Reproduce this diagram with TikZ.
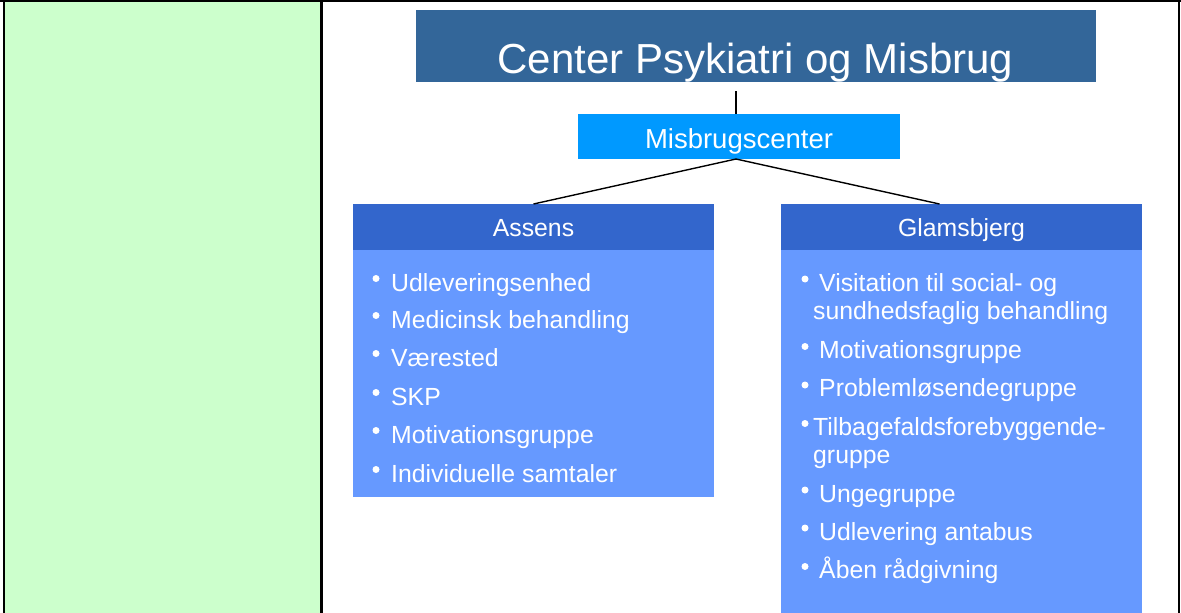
\documentclass[tikz,border=0pt]{standalone}
\usepackage{fontspec}
\setmainfont{Liberation Sans}
\definecolor{panelgreen}{HTML}{CCFFCC}
\definecolor{titleblue}{HTML}{336699}
\definecolor{midblue}{HTML}{0099FF}
\definecolor{headblue}{HTML}{3366CC}
\definecolor{bodyblue}{HTML}{6699FF}
\begin{document}
\begin{tikzpicture}[x=1pt,y=-1pt,
  box/.style={draw=none,inner sep=0pt,outer sep=0pt,anchor=north west},
  item/.style={anchor=base west,inner sep=0pt,text=white,font=\fontsize{24.8}{28}\selectfont},
  head/.style={anchor=base,inner sep=0pt,text=white,font=\fontsize{24.8}{28}\selectfont},
  bul/.style={circle,fill=white,draw=none,inner sep=0pt,minimum size=7pt},
  conn/.style={line width=1.4pt},
  border/.style={line width=2.6pt}]
\useasboundingbox (0,0) rectangle (1181,613);
% left panel and frame
\fill[panelgreen] (4,1) rectangle (321,613);
\draw[border] (0,0.9) -- (1181,0.9);
\draw[border] (4,0) -- (4,613);
\draw[border] (321.3,0) -- (321.3,613);
\draw[line width=1.4pt] (1179,0) -- (1179,613);
% boxes
\node[box,fill=titleblue,minimum width=680pt,minimum height=72pt] (title) at (416,10) {};
\node[box,fill=midblue,minimum width=322pt,minimum height=45pt] (misb) at (578,114) {};
\node[box,fill=headblue,minimum width=361pt,minimum height=46pt] (ahead) at (353,204) {};
\node[box,fill=bodyblue,minimum width=361pt,minimum height=247pt] (abody) at (353,250) {};
\node[box,fill=headblue,minimum width=361pt,minimum height=46pt] (ghead) at (781,204) {};
\node[box,fill=bodyblue,minimum width=361pt,minimum height=363pt] (gbody) at (781,250) {};
% titles
\node[anchor=base,inner sep=0pt,text=white,font=\fontsize{42}{46}\selectfont] (titletext) at (755.5,73) {Center Psykiatri og Misbrug};
\node[anchor=base,inner sep=0pt,text=white,font=\fontsize{27.5}{30}\selectfont] (misbtext) at (739,148) {Misbrugscenter};
\node[head] (atext) at (533.5,236) {Assens};
\node[head] (gtext) at (961.5,236.5) {Glamsbjerg};
% connectors
\coordinate (topstart) at (736,91);
\coordinate (apex) at (736,159);
\coordinate (gend) at (939.5,204);
\draw[conn] (topstart) -- (misb.north -| topstart);
\draw[conn] (apex) -- (ahead.north);
\draw[conn] (apex) -- (gend);
% Assens list
\foreach \y/\t [count=\i] in {291/Udleveringsenhed,328/Medicinsk behandling,366/Værested,405/SKP,443/Motivationsgruppe,482/Individuelle samtaler}{
  \node[bul] (ab\i) at (376,\y-12.5) {};
  \node[item] (ai\i) at (391,\y) {\t};
}
% Glamsbjerg list
\node[bul] (gb1) at (805,279) {};
\node[item] (gi1) at (819,291) {Visitation til social- og};
\node[item] (gi1b) at (813,319.5) {sundhedsfaglig behandling};
\node[bul] (gb2) at (805,346.5) {};
\node[item] (gi2) at (819,358) {Motivationsgruppe};
\node[bul] (gb3) at (805,385) {};
\node[item] (gi3) at (819,396) {Problemløsendegruppe};
\node[bul] (gb4) at (805,423.5) {};
\node[item] (gi4) at (813,435) {Tilbagefaldsforebyggende-};
\node[item] (gi4b) at (813,463) {gruppe};
\node[bul] (gb5) at (805,490) {};
\node[item] (gi5) at (819,502) {Ungegruppe};
\node[bul] (gb6) at (805,528) {};
\node[item] (gi6) at (819,540) {Udlevering antabus};
\node[bul] (gb7) at (805,566.5) {};
\node[item] (gi7) at (819,578) {Åben rådgivning};
\end{tikzpicture}
\end{document}
